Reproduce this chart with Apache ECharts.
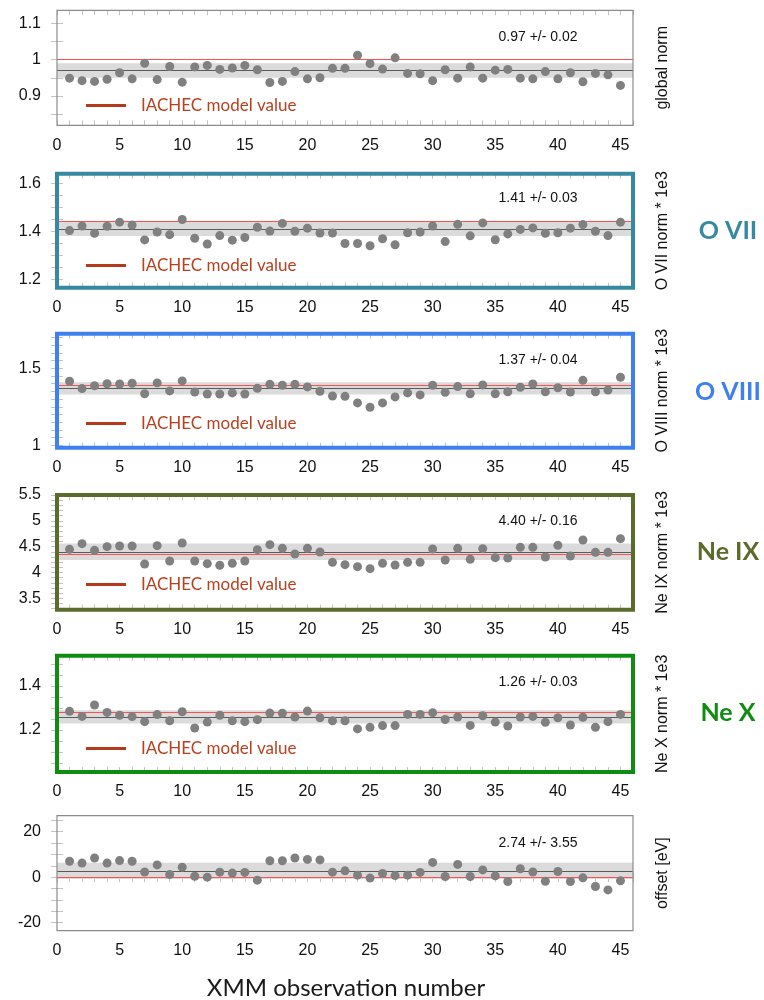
<!DOCTYPE html>
<html><head><meta charset="utf-8">
<script src="https://cdn.jsdelivr.net/npm/echarts@6/dist/echarts.min.js"></script>
<style>html,body{margin:0;padding:0;background:#fff}#c{width:764px;height:1000px}</style>
</head><body><div id="c"></div>
<script>
// ---------------- data ----------------
const obsNumber = [1,2,3,4,5,6,7,8,9,10,11,12,13,14,15,16,17,18,19,20,21,22,23,24,25,26,27,28,29,30,31,32,33,34,35,36,37,38,39,40,41,42,43,44,45];
const globalNorm = [0.949,0.942,0.940,0.946,0.964,0.947,0.990,0.945,0.981,0.938, 0.980,0.984,0.973,0.977,0.984,0.972,0.937,0.940,0.967,0.947, 0.950,0.976,0.976,1.012,0.989,0.974,1.005,0.962,0.961,0.942, 0.972,0.949,0.980,0.949,0.971,0.973,0.949,0.947,0.967,0.947, 0.964,0.939,0.962,0.958,0.929];
const oviiNorm = [1.403,1.422,1.392,1.421,1.438,1.426,1.364,1.397,1.386,1.449, 1.371,1.347,1.382,1.363,1.374,1.417,1.401,1.433,1.400,1.413, 1.393,1.393,1.349,1.349,1.340,1.369,1.344,1.394,1.397,1.422, 1.357,1.429,1.381,1.435,1.365,1.389,1.408,1.414,1.392,1.394, 1.413,1.428,1.400,1.382,1.438];
const oviiiNorm = [1.416,1.368,1.387,1.400,1.398,1.403,1.335,1.405,1.353,1.418, 1.346,1.333,1.333,1.340,1.333,1.370,1.396,1.390,1.396,1.379, 1.351,1.320,1.318,1.275,1.247,1.275,1.314,1.340,1.327,1.390, 1.344,1.381,1.335,1.392,1.335,1.348,1.377,1.398,1.348,1.374, 1.346,1.422,1.348,1.359,1.442];
const neixNorm = [4.448,4.558,4.429,4.500,4.513,4.513,4.165,4.519,4.223,4.571, 4.223,4.171,4.139,4.177,4.223,4.442,4.539,4.468,4.358,4.468, 4.397,4.197,4.152,4.113,4.074,4.177,4.145,4.197,4.197,4.455, 4.242,4.468,4.255,4.461,4.287,4.281,4.487,4.487,4.300,4.526, 4.319,4.629,4.390,4.390,4.655];
const nexNorm = [1.285,1.262,1.314,1.280,1.267,1.261,1.238,1.270,1.242,1.283, 1.209,1.236,1.267,1.242,1.238,1.247,1.277,1.276,1.259,1.286, 1.256,1.242,1.242,1.205,1.212,1.220,1.220,1.271,1.271,1.279, 1.248,1.259,1.221,1.265,1.236,1.218,1.259,1.262,1.235,1.256, 1.223,1.258,1.212,1.238,1.271];
const offsetEv = [7.0,6.2,8.4,6.2,7.3,7.0,2.3,5.4,1.2,4.4, 0.4,0.0,2.2,1.8,2.1,-1.3,7.2,7.2,8.4,7.8, 7.6,2.2,2.8,0.9,-0.4,1.6,0.7,0.9,2.1,6.5, 0.3,5.6,0.3,3.2,0.6,-1.9,3.7,2.3,-1.8,2.5, -1.9,-0.3,-4.1,-5.6,-1.6];

const fitMean = [0.97, 1.41, 1.37, 4.40, 1.26, 2.74];
const fitErr = [0.02, 0.03, 0.04, 0.16, 0.03, 3.55];
const fitText = ['0.97 +/- 0.02', '1.41 +/- 0.03', '1.37 +/- 0.04', '4.40 +/- 0.16', '1.26 +/- 0.03', '2.74 +/- 3.55'];
const modelValue = [1.0, 1.44, 1.39, 4.35, 1.285, 0];
const axisNames = ['global norm', 'O VII norm * 1e3', 'O VIII norm * 1e3', 'Ne IX norm * 1e3', 'Ne X norm * 1e3', 'offset [eV]'];
const lineNames = [null, 'O VII', 'O VIII', 'Ne IX', 'Ne X', null];
const legendName = 'IACHEC model value';
const xAxisTitle = 'XMM observation number';

const xLabelValues = [0,5,10,15,20,25,30,35,40,45];
const xTickValues = [0,1,2,3,4,5,6,7,8,9,10,11,12,13,14,15,16,17,18,19,20,21,22,23,24,25,26,27,28,29,30,31,32,33,34,35,36,37,38,39,40,41,42,43,44,45,46];
const yLabelValues = [
  [0.9, 1, 1.1],
  [1.2, 1.4, 1.6],
  [1, 1.5],
  [3.5, 4, 4.5, 5, 5.5],
  [1.2, 1.4],
  [-20, 0, 20]
];
const yTickValues = [
  [0.85, 0.9, 0.95, 1, 1.05, 1.1],
  [1.2, 1.25, 1.3, 1.35, 1.4, 1.45, 1.5, 1.55, 1.6],
  [1, 1.05, 1.1, 1.15, 1.2, 1.25, 1.3, 1.35, 1.4, 1.45, 1.5, 1.55, 1.6, 1.65, 1.7],
  [3.3, 3.4, 3.5, 3.6, 3.7, 3.8, 3.9, 4, 4.1, 4.2, 4.3, 4.4, 4.5, 4.6, 4.7, 4.8, 4.9, 5, 5.1, 5.2, 5.3, 5.4, 5.5],
  [1.05, 1.1, 1.15, 1.2, 1.25, 1.3, 1.35, 1.4, 1.45, 1.5],
  [-20, -15, -10, -5, 0, 5, 10, 15, 20, 25]
];
const yMin = [0.819, 1.165, 0.984, 3.28, 1.009, -23.5];
const yMax = [1.136, 1.64, 1.725, 5.5, 1.538, 27.0];
const xMin = 0, xMax = 46;

// ---------------- layout / style ----------------
const seriesValues = [globalNorm, oviiNorm, oviiiNorm, neixNorm, nexNorm, offsetEv];
const panelTop = [10.3, 173.7, 333.7, 495, 655.7, 815.7];
const panelBottom = [125.3, 287.7, 447.7, 609.7, 772, 930.7];
const frameColor = [null, '#37899f', '#3f80f0', '#5a6b2c', '#0f8c12', null];
const legendCenterY = [105.5, 265.5, 423.5, 584.5, 748.5];
const lineLabelY = [null, 230.7, 391.7, 551.7, 713.3, null];
const annotY = [37, 198.3, 360, 520.7, 682.3, 842.7];
const PLOT_LEFT = 57, PLOT_RIGHT = 633;
const tickColor = '#c4c4c4';
const labelFont = 'Liberation Sans';

const grids = [], xAxes = [], yAxes = [], series = [], legends = [], graphics = [];

for (let i = 0; i < 6; i++) {
  const fc = frameColor[i];
  grids.push({
    left: PLOT_LEFT, right: 764 - PLOT_RIGHT,
    top: panelTop[i], height: panelBottom[i] - panelTop[i],
    show: true, z: 10,
    backgroundColor: 'transparent',
    borderColor: fc || '#8c8c8c', borderWidth: fc ? 4 : 1.2
  });
  const commonX = {
    gridIndex: i, type: 'value', min: xMin, max: xMax,
    splitLine: { show: false }, axisLine: { show: false }
  };
  xAxes.push(Object.assign({}, commonX, {
    position: 'bottom',
    axisTick: { show: true, inside: true, length: 5, customValues: xTickValues, lineStyle: { color: tickColor } },
    axisLabel: { show: true, customValues: xLabelValues, fontSize: 16, color: '#111', fontFamily: labelFont, margin: 12 }
  }));
  xAxes.push(Object.assign({}, commonX, {
    position: 'top',
    axisTick: { show: true, inside: true, length: 5, customValues: xTickValues, lineStyle: { color: tickColor } },
    axisLabel: { show: false }
  }));
  const commonY = {
    gridIndex: i, type: 'value', min: yMin[i], max: yMax[i],
    splitLine: { show: false }, axisLine: { show: false }
  };
  yAxes.push(Object.assign({}, commonY, {
    position: 'left',
    axisTick: { show: true, inside: true, length: 6, customValues: yTickValues[i], lineStyle: { color: tickColor } },
    axisLabel: { show: true, customValues: yLabelValues[i], fontSize: 16, color: '#111', fontFamily: labelFont, margin: 16 }
  }));
  yAxes.push(Object.assign({}, commonY, {
    position: 'right',
    axisTick: { show: true, inside: true, length: 6, customValues: yTickValues[i], lineStyle: { color: tickColor } },
    axisLabel: { show: false },
    name: axisNames[i], nameLocation: 'middle', nameRotate: 90, nameGap: 22,
    nameTextStyle: { fontSize: 16, color: '#111', fontFamily: labelFont }
  }));

  series.push({
    type: 'scatter',
    xAxisIndex: i * 2, yAxisIndex: i * 2,
    symbolSize: 9,
    itemStyle: { color: '#808080', opacity: 1 },
    z: 3,
    silent: true,
    data: obsNumber.map((n, j) => [n, seriesValues[i][j]]),
    markArea: {
      silent: true, z: 1,
      itemStyle: { color: '#dbdbdb' },
      data: [[{ yAxis: fitMean[i] - fitErr[i] }, { yAxis: fitMean[i] + fitErr[i] }]]
    },
    markLine: {
      silent: true, z: 2, symbol: 'none', label: { show: false },
      animation: false,
      data: [
        { yAxis: fitMean[i], lineStyle: { color: '#5a5a5a', width: 1, type: 'solid' } },
        { yAxis: modelValue[i], lineStyle: { color: '#ff4f4f', width: 1, type: 'solid' } }
      ]
    }
  });

  if (i < 5) {
    legends.push({
      left: 86, top: legendCenterY[i] - 10, padding: 0,
      selectedMode: false,
      data: [{ name: legendName, icon: 'rect' }],
      itemWidth: 40, itemHeight: 3,
      itemStyle: { color: '#b5391d' },
      textStyle: { color: '#b8401f', fontSize: 17, fontFamily: 'Lato', padding: [0, 0, 0, 10], lineHeight: 20 }
    });
  }

  graphics.push({
    type: 'text', x: 538, y: annotY[i], z: 20,
    style: { text: fitText[i], fill: '#111', font: '14px "Liberation Sans"', align: 'center', verticalAlign: 'middle' }
  });
  if (lineNames[i]) {
    graphics.push({
      type: 'text', x: 728, y: lineLabelY[i], z: 20,
      style: { text: lineNames[i], fill: fc, font: 'bold 25px Lato', align: 'center', verticalAlign: 'middle' }
    });
  }
}

// dummy series so the legend entry exists
series.push({ type: 'line', name: legendName, xAxisIndex: 0, yAxisIndex: 0, data: [], itemStyle: { color: '#b5391d' } });

graphics.push({
  type: 'text', x: 346, y: 988, z: 20,
  style: { text: xAxisTitle, fill: '#1a1a1a', font: '24px Lato', align: 'center', verticalAlign: 'middle' }
});

const chart = echarts.init(document.getElementById('c'), null, { renderer: 'canvas' });
chart.setOption({
  animation: false,
  backgroundColor: '#ffffff',
  grid: grids,
  xAxis: xAxes,
  yAxis: yAxes,
  legend: legends,
  series: series,
  graphic: graphics
});
</script>
</body></html>
